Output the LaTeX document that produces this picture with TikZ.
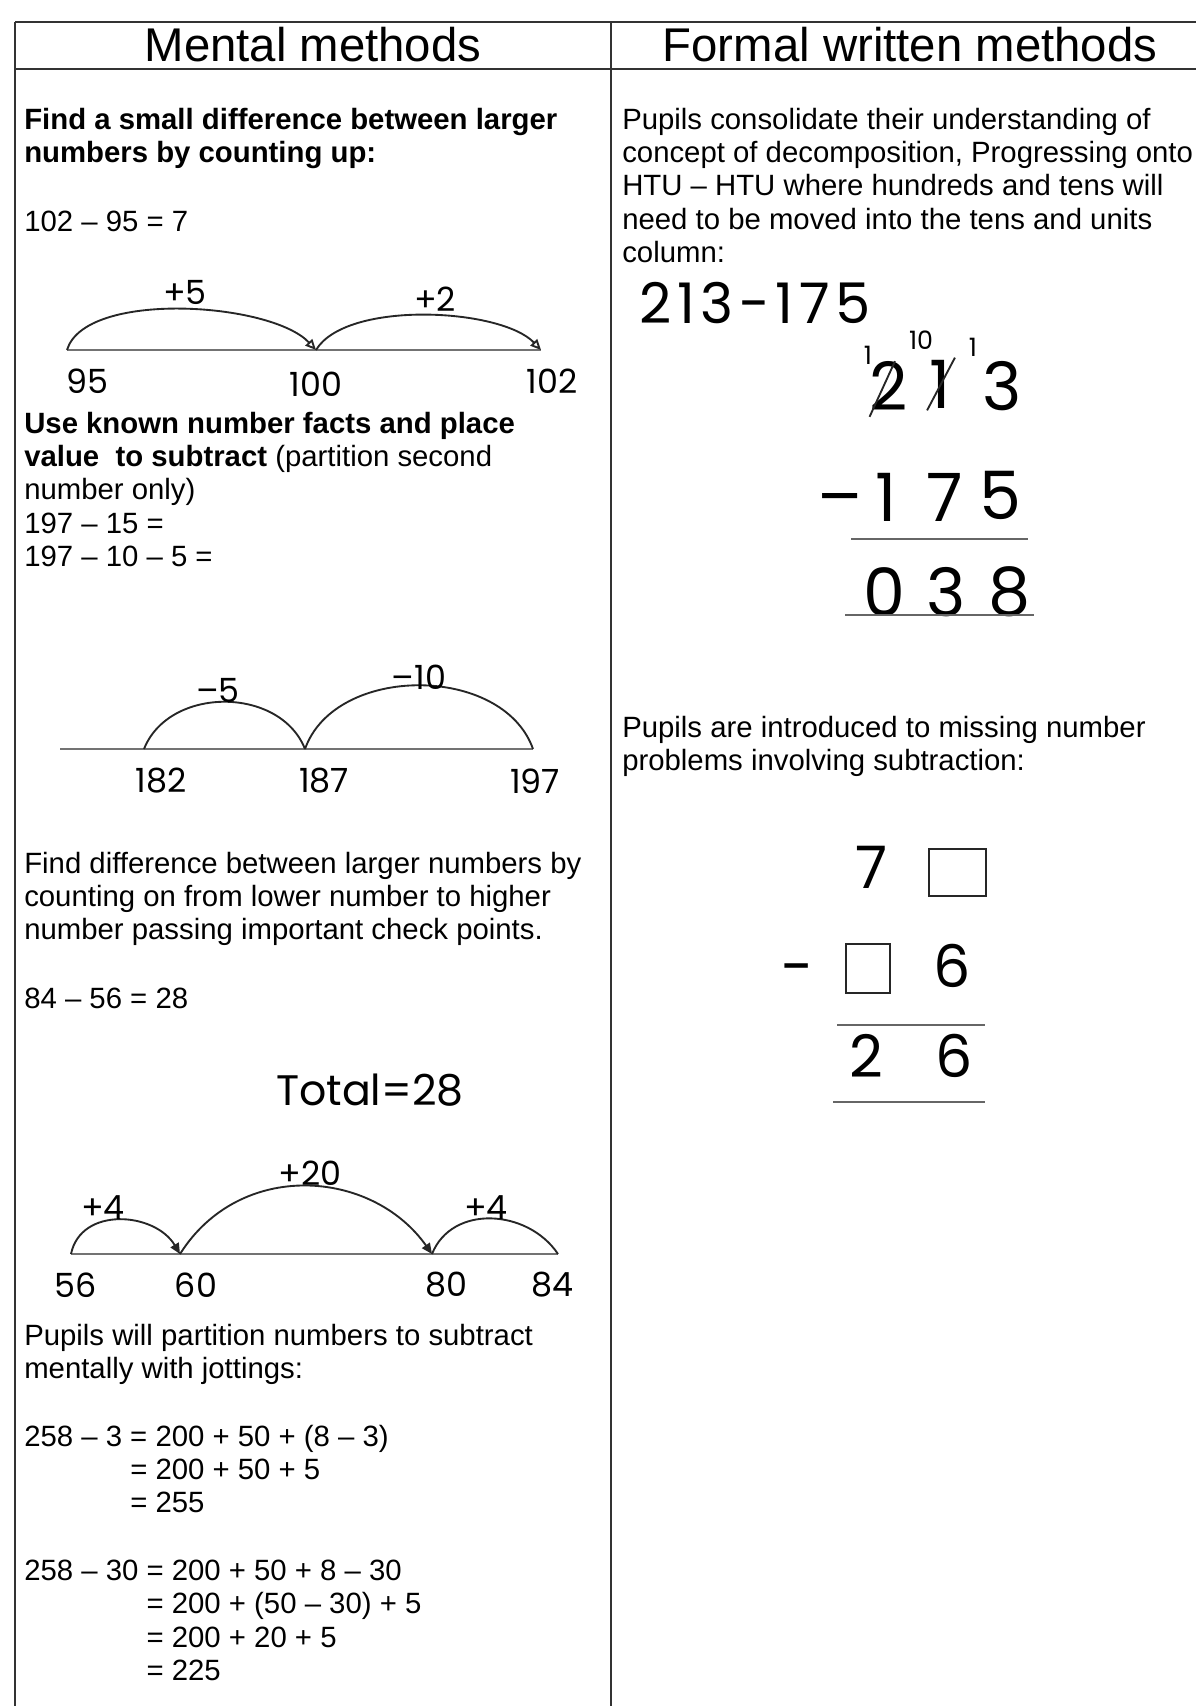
\documentclass[tikz,border=0pt]{standalone}
\usepackage{fontspec}
\setmainfont{Liberation Sans}
\newfontfamily\handfont{Poppins}
\usetikzlibrary{arrows.meta,calc}

\newcommand{\bodysize}{\fontsize{22}{25.1}\selectfont}

\tikzset{
 txt/.style={anchor=north west,align=left,inner sep=0pt,font=\bodysize,
 execute at begin node=\strut},
 head/.style={inner sep=0pt,font=\fontsize{35.5}{38}\selectfont},
 hand/.style={inner sep=0pt,font=\handfont\fontsize{25}{28}\selectfont},
 sum/.style={inner sep=0pt,font=\handfont\fontsize{50}{54}\selectfont},
 gapsum/.style={inner sep=0pt,font=\handfont\fontsize{44}{48}\selectfont},
 carry/.style={inner sep=0pt,font=\handfont\fontsize{19}{21}\selectfont},
 rule/.style={line width=1.1pt,black!80},
 numline/.style={line width=1.6pt,black!55},
 jump/.style={line width=1.4pt,black!85},
 openhead/.style={-{Triangle[open,length=8pt,width=7pt]}},
 fullhead/.style={-{Triangle[length=8pt,width=7pt]}},
 underline/.style={line width=1.6pt,black!60},
 gap/.style={line width=1.8pt,black!85},
}

\begin{document}
\begin{tikzpicture}[x=0.75pt,y=-0.75pt]
 \useasboundingbox[fill=white] (0,0) rectangle (1196,1706);
 % table frame
 \draw[rule] (15,22) -- (1196,22);
 \draw[rule] (15,69) -- (1196,69);
 \draw[rule] (15,22) -- (15,1706);
 \draw[rule] (611,22) -- (611,1706);
 \node[head] (mental) at (313,45) {Mental methods};
 \node[head] (formal) at (910,45) {Formal written methods};

 % left column
 \node[txt] (small) at (24,107.5)
 {\textbf{Find a small difference between larger}\\
 \textbf{numbers by counting up:}};
 \node[txt] (eqA) at (24,207.5) {102 – 95 = 7};

 \coordinate (p95) at (67,350);
 \coordinate (p100) at (316,350);
 \coordinate (p102) at (541,350);
 \draw[numline] (p95) -- (p102);
 \draw[jump,openhead] (p95) .. controls +(18,-60) and +(-45,-48) .. (p100);
 \draw[jump,openhead] (p100) .. controls +(30,-50) and +(-40,-42) .. (p102);
 \node[hand] (j5) at (185,292) {+5};
 \node[hand] (j2) at (435,299) {+2};
 \node[hand] (n95) at (87,381) {95};
 \node[hand] (n100) at (316,384) {100};
 \node[hand] (n102) at (552,381) {102};

 \node[txt] (known) at (24,411.5)
 {\textbf{Use known number facts and place}\\
 \textbf{value~ to subtract} (partition second\\
 number only)\\
 197 – 15 =\\
 197 – 10 – 5 =};

 \coordinate (q182) at (144,749);
 \coordinate (q187) at (305,749);
 \coordinate (q197) at (533,749);
 \draw[numline] (60,749) -- (q197);
 \draw[jump] (q182) .. controls +(25,-63) and +(-25,-63) .. (q187);
 \draw[jump] (q187) .. controls +(30,-85) and +(-30,-85) .. (q197);
 \node[hand] (j5b) at (218,690) {–5};
 \node[hand] (j10) at (419,677) {–10};
 \node[hand] (n182) at (161,781) {182};
 \node[hand] (n187) at (324,781) {187};
 \node[hand] (n197) at (535,781) {197};

 \node[txt] (diff) at (24,851.5)
 {Find difference between larger numbers by\\
 counting on from lower number to higher\\
 number passing important check points.};
 \node[txt] (eqB) at (24,984.5) {84 – 56 = 28};
 \node[hand,font=\handfont\fontsize{32}{34}\selectfont] (total) at (370,1090) {Total=28};

 \coordinate (r56) at (71,1254);
 \coordinate (r60) at (180,1254);
 \coordinate (r80) at (432,1254);
 \coordinate (r84) at (558,1254);
 \draw[numline] (r56) -- (r84);
 \draw[jump,fullhead] (r56) .. controls +(10,-48) and +(-25,-42) .. (r60);
 \draw[jump,fullhead] (r60) .. controls +(60,-95) and +(-60,-85) .. (r80);
 \draw[jump] (r80) .. controls +(20,-50) and +(-30,-45) .. (r84);
 \node[hand] (j4a) at (103,1208) {+4};
 \node[hand] (j20) at (310,1173) {+20};
 \node[hand] (j4b) at (486,1208) {+4};
 \node[hand] (n56) at (76,1285) {56};
 \node[hand] (n60) at (196,1285) {60};
 \node[hand] (n80) at (446,1285) {80};
 \node[hand] (n84) at (552,1285) {84};

 \node[txt] (jot) at (24,1323.5)
 {Pupils will partition numbers to subtract\\
 mentally with jottings:};
 \node[txt] (eqC) at (24,1424.5)
 {258 – 3 = 200 + 50 + (8 – 3)\\
 \phantom{258 – 3 }= 200 + 50 + 5\\
 \phantom{258 – 3 }= 255};
 \node[txt] (eqD) at (24,1559.5)
 {258 – 30 = 200 + 50 + 8 – 30\\
 \phantom{258 – 30 }= 200 + (50 – 30) + 5\\
 \phantom{258 – 30 }= 200 + 20 + 5\\
 \phantom{258 – 30 }= 225};

 % right column
 \node[txt] (decomp) at (622,107.5)
 {Pupils consolidate their understanding of\\
 concept of decomposition, Progressing onto\\
 HTU – HTU where hundreds and tens will\\
 need to be moved into the tens and units\\
 column:};
 \node[hand,font=\handfont\addfontfeatures{LetterSpace=10}\fontsize{42}{44}\selectfont] (task) at (755,303) {213-175};

 \node[carry] (c1) at (868,355) {1};
 \node[carry] (c10) at (921,340) {10};
 \node[carry] (c3) at (973,347) {1};
 \node[sum] (h2) at (889,386) {2};
 \node[sum] (t1) at (940,384) {1};
 \node[sum] (u3) at (1002,386) {3};
 \draw[jump] ($(h2.south west)+(0,6)$) -- ($(h2.north)+(6,0)$);
 \draw[jump] ($(t1.south west)+(-2,2)$) -- ($(t1.north east)+(4,-2)$);
 \node[sum] (m) at (840,507) {–};
 \node[sum] (s1) at (886,497) {1};
 \node[sum] (s7) at (945,497) {7};
 \node[sum] (s5) at (1000,495) {5};
 \draw[underline] (851,539) -- (1028,539);
 \node[sum] (a0) at (884,592) {0};
 \node[sum] (a3) at (946,592) {3};
 \node[sum] (a8) at (1010,592) {8};
 \draw[underline] (845,615) -- (1034,615);

 \node[txt] (missing) at (622,715.5)
 {Pupils are introduced to missing number\\
 problems involving subtraction:};
 \node[gapsum] (k7) at (872,867) {7};
 \draw[gap] (929,849) rectangle (986,896);
 \node[gapsum] (km) at (798,976) {-};
 \draw[gap] (846,944) rectangle (890,993);
 \node[gapsum] (k6) at (952,966) {6};
 \draw[underline] (837,1025) -- (985,1025);
 \node[gapsum] (k2) at (866,1056) {2};
 \node[gapsum] (k6b) at (954,1056) {6};
 \draw[underline] (833,1102) -- (985,1102);
\end{tikzpicture}
\end{document}
